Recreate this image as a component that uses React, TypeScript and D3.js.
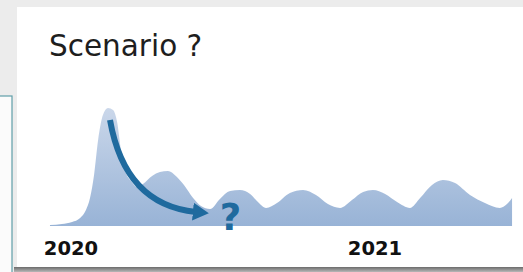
import React from 'react';
import { scaleLinear, area, line, curveMonotoneX, curveNatural } from 'd3';

// months since Jan 2020
const months = [
  -0.83, -0.36, 0.04, 0.36, 0.59, 0.75, 0.91, 1.07, 1.26, 1.46, 1.66, 1.82, 1.97,
  2.13, 2.37, 2.61, 2.84, 3.2, 3.51, 3.83, 4.14, 4.46, 4.82, 5.13, 5.49, 5.88,
  6.28, 6.67, 7.07, 7.38, 7.7, 8.13, 8.64, 9.16, 9.67, 10.14, 10.62, 11.09, 11.53,
  11.92, 12.4, 12.87, 13.38, 13.78, 14.25, 14.68, 15.16, 15.75, 16.34, 16.93,
  17.21, 17.41,
];
// relative wave level (peak = 100)
const level = [
  0.8, 1.7, 3.4, 6.8, 13.6, 23.7, 43.2, 72.9, 94.1, 100, 98.3, 88.1, 64.4, 47.5,
  38.1, 33.1, 35.6, 42.4, 45.8, 46.6, 42.4, 34.7, 23.7, 16.9, 14.4, 22.9, 29.7,
  30.5, 27.1, 20.3, 15.3, 19.5, 28, 30.5, 26.3, 18.6, 15.3, 22, 28.8, 30.5, 27.1,
  20.3, 15.3, 23.7, 34.7, 39, 36.4, 26.3, 19.5, 15.3, 18.6, 23.7,
];
const yearTicks = [0, 12];
const yearLabels = ['2020', '2021'];

// the "where next?" arrow, in the same month / level units
const arrowMonths = [1.54, 2.13, 4.93];
const arrowLevels = [89.8, 17.8, 11.9];

const W = 523;
const H = 272;

export default function App() {
  const x = scaleLinear().domain([0, 12]).range([71, 375]);
  const y = scaleLinear().domain([0, 100]).range([226, 108]);

  const pts = months.map((m, i) => ({ m, v: level[i] }));
  const waves = area<{ m: number; v: number }>()
    .x((d) => x(d.m))
    .y0(y(0))
    .y1((d) => y(d.v))
    .curve(curveMonotoneX)(pts);

  const [ax0, axc, ax1] = arrowMonths.map((m) => x(m));
  const [ay0, ayc, ay1] = arrowLevels.map((v) => y(v));
  const arrowPath = `M${ax0},${ay0} Q${axc},${ayc} ${ax1},${ay1}`;

  const blue = '#1f6a9e';
  const font = '"DejaVu Sans", Verdana, sans-serif';

  return (
    <div style={{ position: 'fixed', left: 0, top: 0 }}>
      <svg width={W} height={H} style={{ display: 'block' }}>
        <defs>
          <linearGradient id="fillGrad" gradientUnits="userSpaceOnUse" x1="0" y1={y(100)} x2="0" y2={y(0)}>
            <stop offset="0" stopColor="#cad7ea" />
            <stop offset="1" stopColor="#98b3d6" />
          </linearGradient>
          <linearGradient id="shadow" x1="0" y1="0" x2="0" y2="1">
            <stop offset="0" stopColor="#6b6b6b" />
            <stop offset="1" stopColor="#b8b8b8" />
          </linearGradient>
          <marker id="head" viewBox="0 0 16 18" refX="3" refY="9" markerWidth="16" markerHeight="18"
            markerUnits="userSpaceOnUse" orient="auto">
            <path d="M0,0 L16,9 L0,18 Z" fill={blue} />
          </marker>
        </defs>

        {/* backdrop: neighbouring slide + page */}
        <rect width={W} height={H} fill="#ececec" />
        <rect x={-2} y={96} width={14} height={H} fill="#fbfbfb" stroke="#5f9ea8" strokeWidth={1.2} />
        <rect x={17} y={7} width={W} height={260} fill="#ffffff" />
        <rect x={14} y={267} width={W} height={5} fill="url(#shadow)" />

        <text x={49} y={56} fontFamily={font} fontSize={29.5} fill="#1e1e1e">
          Scenario ?
        </text>

        <path d={waves ?? ''} fill="url(#fillGrad)" />

        <path d={arrowPath} fill="none" stroke={blue} strokeWidth={6} markerEnd="url(#head)" />
        <text x={x(6.3)} y={y(-3.4)} textAnchor="middle" fontFamily={font} fontWeight="bold"
          fontSize={37} fill={blue}>
          ?
        </text>

        {yearTicks.map((t, i) => (
          <text key={t} x={x(t)} y={255} textAnchor="middle" fontFamily={font} fontWeight="bold"
            fontSize={19.5} fill="#111">
            {yearLabels[i]}
          </text>
        ))}
      </svg>
    </div>
  );
}
